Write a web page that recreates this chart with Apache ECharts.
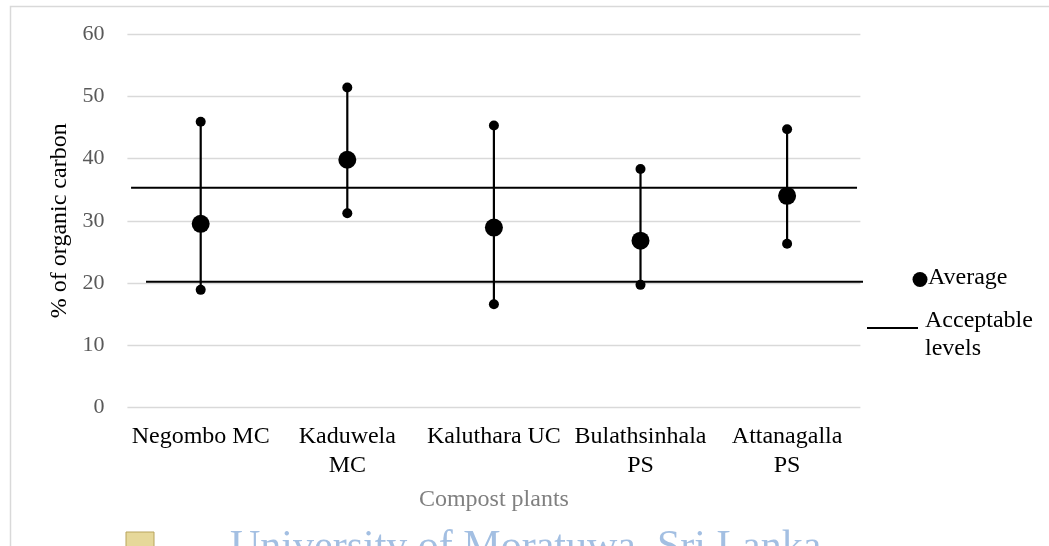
<!DOCTYPE html>
<html>
<head>
<meta charset="utf-8">
<style>
  html, body { margin: 0; padding: 0; background: #ffffff; }
  #chart { width: 1049px; height: 546px; }
</style>
<script src="https://cdn.jsdelivr.net/npm/echarts@6/dist/echarts.min.js"></script>
</head>
<body>
<div id="chart"></div>
<script>
// Organic carbon content (%) of compost from each plant
const categories = ['Negombo MC', 'Kaduwela\nMC', 'Kaluthara UC', 'Bulathsinhala\nPS', 'Attanagalla\nPS'];
const averages = [29.5, 39.8, 28.9, 26.8, 34.0];
const maxima = [45.9, 51.4, 45.3, 38.3, 44.7];
const minima = [18.9, 31.2, 16.6, 19.7, 26.3];
// Upper and lower acceptable levels of organic carbon
const acceptableLevels = [35.3, 20.2];
const yTicks = { min: 0, max: 60, interval: 10 };

const serif = '"Liberation Serif", "Times New Roman", serif';

// horizontal reach of each acceptable-level line, in category units
const levelSpans = [[-0.475, 4.477], [-0.373, 4.565]];

const errorBarData = categories.map((c, i) => [i, minima[i], maxima[i]]);
const endpointData = categories.map((c, i) => [i, maxima[i]])
  .concat(categories.map((c, i) => [i, minima[i]]));
const averageData = categories.map((c, i) => [i, averages[i]]);

const levelSeries = acceptableLevels.map((v, k) => ({
  type: 'line',
  xAxisIndex: 1,
  data: [[levelSpans[k][0], v], [levelSpans[k][1], v]],
  symbol: 'none',
  clip: false,
  silent: true,
  lineStyle: { color: '#000', width: 2.2 },
  z: 2
}));

const chart = echarts.init(document.getElementById('chart'), null, { renderer: 'canvas' });

chart.setOption({
  animation: false,
  backgroundColor: '#ffffff',
  grid: { left: 127.4, right: 188.6, top: 34, bottom: 138.5, containLabel: false },
  xAxis: [{
    type: 'category',
    data: categories,
    boundaryGap: true,
    axisLine: { show: false },
    axisTick: { show: false },
    axisLabel: {
      interval: 0,
      color: '#000',
      fontFamily: serif,
      fontSize: 24,
      lineHeight: 29,
      margin: 15
    },
    name: 'Compost plants',
    nameLocation: 'middle',
    nameGap: 80,
    nameTextStyle: { color: '#808080', fontFamily: serif, fontSize: 24 }
  }, {
    type: 'value',
    min: -0.5,
    max: 4.5,
    show: false
  }],
  yAxis: {
    type: 'value',
    min: yTicks.min,
    max: yTicks.max,
    interval: yTicks.interval,
    axisLine: { show: false },
    axisTick: { show: false },
    splitLine: { lineStyle: { color: '#d9d9d9', width: 1.3 } },
    axisLabel: { color: '#595959', fontFamily: serif, fontSize: 22, margin: 23 },
    name: '% of organic carbon',
    nameLocation: 'middle',
    nameGap: 53,
    nameTextStyle: { color: '#000', fontFamily: serif, fontSize: 24 }
  },
  series: levelSeries.concat([
    {
      type: 'custom',
      data: errorBarData,
      encode: { x: 0, y: [1, 2] },
      z: 3,
      silent: true,
      renderItem: function (params, api) {
        const lo = api.coord([api.value(0), api.value(1)]);
        const hi = api.coord([api.value(0), api.value(2)]);
        return {
          type: 'line',
          shape: { x1: lo[0], y1: lo[1], x2: hi[0], y2: hi[1] },
          style: { stroke: '#000', lineWidth: 2.2 }
        };
      }
    },
    {
      type: 'scatter',
      data: endpointData,
      symbol: 'circle',
      symbolSize: 10,
      itemStyle: { color: '#000', opacity: 1 },
      z: 4
    },
    {
      type: 'scatter',
      name: 'Average',
      data: averageData,
      symbol: 'circle',
      symbolSize: 18,
      itemStyle: { color: '#000', opacity: 1 },
      z: 5
    }
  ]),
  graphic: [
    // outer frame
    { type: 'rect', shape: { x: 10.5, y: 6.5, width: 1100, height: 600 },
      style: { fill: 'none', stroke: '#d9d9d9', lineWidth: 1.5 }, silent: true, z: 0 },
    // legend: Average
    { type: 'circle', shape: { cx: 920, cy: 279.5, r: 7.5 }, style: { fill: '#000' } },
    { type: 'text', left: 928, top: 266,
      style: { text: 'Average', fill: '#000', font: '24px ' + serif } },
    // legend: Acceptable levels
    { type: 'line', shape: { x1: 867, y1: 328, x2: 918, y2: 328 },
      style: { stroke: '#000', lineWidth: 2.2 } },
    { type: 'text', left: 925, top: 307,
      style: { text: 'Acceptable\nlevels', fill: '#000', font: '24px ' + serif, lineHeight: 28 } },
    // institutional footer
    { type: 'rect', shape: { x: 126, y: 532, width: 28, height: 20 },
      style: { fill: '#e6d89a', stroke: '#b8a45c', lineWidth: 1 } },
    { type: 'text', left: 230, top: 527,
      style: { text: 'University of Moratuwa, Sri Lanka.', fill: '#a3bfe2', font: '42px ' + serif } }
  ]
});
</script>
</body>
</html>
